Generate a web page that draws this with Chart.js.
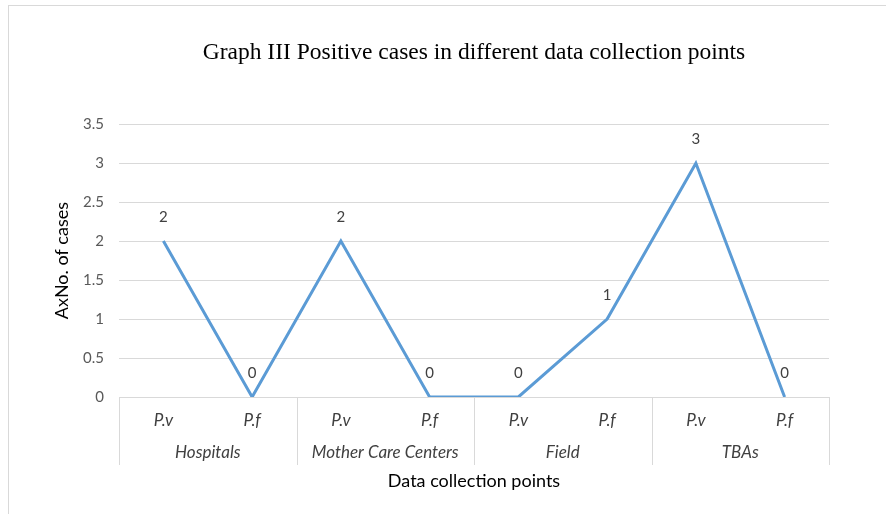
<!DOCTYPE html>
<html>
<head>
<meta charset="utf-8">
<script src="https://cdn.jsdelivr.net/npm/chart.js@4.4.1/dist/chart.umd.min.js"></script>
<style>
  html, body { margin: 0; padding: 0; background: #fff; }
  #wrap { position: relative; width: 886px; height: 514px; }
  #frame { position: absolute; left: 8px; top: 5px; width: 900px; height: 600px; border: 1px solid #d9d9d9; box-sizing: border-box; }
  canvas { position: absolute; left: 0; top: 0; }
</style>
</head>
<body>
<div id="wrap">
  <div id="frame"></div>
  <canvas id="chart" width="886" height="514"></canvas>
</div>
<script>
// Chart data
const subLabels = ['P.v', 'P.f', 'P.v', 'P.f', 'P.v', 'P.f', 'P.v', 'P.f'];
const groupLabels = ['Hospitals', 'Mother Care Centers', 'Field', 'TBAs'];
const positiveCases = [2, 0, 2, 0, 0, 1, 3, 0];
const yTicks = [0, 0.5, 1, 1.5, 2, 2.5, 3, 3.5];

const LINE_COLOR = '#5b9bd5';
const GRID_COLOR = '#d9d9d9';
const TEXT_COLOR = '#595959';
const SANS = 'Lato, "Open Sans", sans-serif';

// Group labels + separators under the category axis
const groupAxisPlugin = {
  id: 'groupAxis',
  afterDraw(chart) {
    const x = chart.scales.x;
    const { ctx } = chart;
    const per = subLabels.length / groupLabels.length;
    const top = x.top;
    const bottom = x.top + 68;

    ctx.save();
    ctx.strokeStyle = GRID_COLOR;
    ctx.lineWidth = 1;
    for (let g = 0; g <= groupLabels.length; g++) {
      let px;
      if (g === 0) px = x.left;
      else if (g === groupLabels.length) px = x.right;
      else px = (x.getPixelForValue(g * per - 1) + x.getPixelForValue(g * per)) / 2;
      px = Math.round(px) + 0.5;
      ctx.beginPath();
      ctx.moveTo(px, top);
      ctx.lineTo(px, bottom);
      ctx.stroke();
    }

    ctx.fillStyle = '#404040';
    ctx.font = 'italic 17px ' + SANS;
    ctx.textAlign = 'center';
    ctx.textBaseline = 'middle';
    groupLabels.forEach((label, g) => {
      const a = x.getPixelForValue(g * per);
      const b = x.getPixelForValue(g * per + per - 1);
      ctx.fillText(label, (a + b) / 2, top + 56);
    });
    ctx.restore();
  }
};

// Value labels above points
const valueLabelPlugin = {
  id: 'valueLabels',
  afterDatasetsDraw(chart) {
    const { ctx } = chart;
    const meta = chart.getDatasetMeta(0);
    ctx.save();
    ctx.fillStyle = '#404040';
    ctx.font = '15px ' + SANS;
    ctx.textAlign = 'center';
    ctx.textBaseline = 'middle';
    meta.data.forEach((pt, i) => {
      ctx.fillText(String(positiveCases[i]), pt.x, pt.y - 24);
    });
    ctx.restore();
  }
};

new Chart(document.getElementById('chart'), {
  type: 'line',
  data: {
    labels: subLabels,
    datasets: [
      {
        label: 'Positive cases',
        data: positiveCases,
        borderColor: LINE_COLOR,
        borderWidth: 3,
        tension: 0,
        pointRadius: 0,
        fill: false
      }
    ]
  },
  options: {
    responsive: false,
    animation: false,
    layout: { padding: { left: 47, right: 57, top: 0, bottom: 22 } },
    plugins: {
      legend: { display: false },
      tooltip: { enabled: false },
      title: {
        display: true,
        fullSize: false,
        text: 'Graph III Positive cases in different data collection points',
        color: '#000',
        font: { family: '"Liberation Serif", "Times New Roman", serif', size: 23.5, weight: 'normal', lineHeight: 1.2 },
        padding: { top: 39, bottom: 57 }
      }
    },
    scales: {
      x: {
        offset: true,
        grid: { display: false, drawTicks: false },
        border: { display: true, color: GRID_COLOR, width: 1 },
        ticks: {
          color: '#404040',
          font: { family: SANS, size: 17, style: 'italic' },
          padding: 13,
          maxRotation: 0
        },
        title: {
          display: true,
          text: 'Data collection points',
          color: '#000',
          font: { family: SANS, size: 18 },
          padding: { top: 0, bottom: 0 }
        },
        afterFit: (s) => { s.height = 95; }
      },
      y: {
        min: 0,
        max: 3.5,
        afterBuildTicks: (s) => { s.ticks = yTicks.map((v) => ({ value: v })); },
        grid: { color: GRID_COLOR, drawTicks: false },
        border: { display: false },
        ticks: {
          color: TEXT_COLOR,
          font: { family: SANS, size: 15 },
          padding: 15,
          callback: (v) => String(v)
        },
        title: {
          display: true,
          text: 'AxNo. of cases',
          color: '#000',
          font: { family: SANS, size: 18 },
          padding: { top: 4, bottom: 4 }
        },
        afterFit: (s) => { s.width = 72; }
      }
    }
  },
  plugins: [groupAxisPlugin, valueLabelPlugin]
});
</script>
</body>
</html>
